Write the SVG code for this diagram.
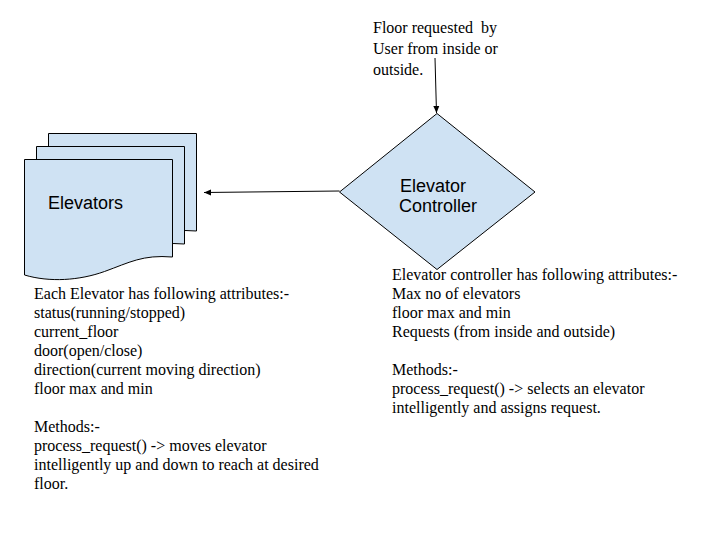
<svg xmlns="http://www.w3.org/2000/svg" width="720" height="540" viewBox="0 0 720 540">
<defs>
<style>
.shape{fill:#cfe2f3;stroke:#000;stroke-width:1}
.lbl{font-family:"Liberation Sans",Arial,sans-serif;font-size:18px;fill:#000}
.note{font-family:"Liberation Serif","Times New Roman",serif;font-size:16px;fill:#000;white-space:pre}
.conn{stroke:#000;stroke-width:1;fill:none}
</style>
<marker id="arr" markerWidth="8" markerHeight="8" refX="7" refY="4" orient="auto" markerUnits="userSpaceOnUse">
<path d="M0,1 L7,4 L0,7 Z" fill="#000"/>
</marker>
<path id="doc" d="M0,0 H148 V97.5 C118,95 105,103 80,112 C55,121 25,123 0,115.5 Z"/>
</defs>
<rect width="720" height="540" fill="#fff"/>
<g id="elevators">
<use href="#doc" class="shape" x="48.5" y="133.5"/>
<use href="#doc" class="shape" x="36.5" y="146.5"/>
<use href="#doc" class="shape" x="24.5" y="159.5"/>
<text class="lbl" x="48" y="209">Elevators</text>
</g>
<g id="controller">
<polygon class="shape" points="437,113.5 535,192 437,269.5 339.5,192"/>
<text class="lbl" x="400" y="192">Elevator</text>
<text class="lbl" x="399" y="212">Controller</text>
</g>
<g id="request-note">
<text class="note" x="373" y="33">Floor requested  by</text>
<text class="note" x="373" y="54">User from inside or</text>
<text class="note" x="373" y="75">outside.</text>
</g>
<g id="elevator-note">
<text class="note" x="34" y="299">Each Elevator has following attributes:-</text>
<text class="note" x="34" y="318">status(running/stopped)</text>
<text class="note" x="34" y="337">current_floor</text>
<text class="note" x="34" y="356">door(open/close)</text>
<text class="note" x="34" y="375">direction(current moving direction)</text>
<text class="note" x="34" y="394">floor max and min</text>
<text class="note" x="34" y="432">Methods:-</text>
<text class="note" x="34" y="451">process_request() -&gt; moves elevator</text>
<text class="note" x="34" y="470">intelligently up and down to reach at desired</text>
<text class="note" x="34" y="489">floor.</text>
</g>
<g id="controller-note">
<text class="note" x="392" y="280">Elevator controller has following attributes:-</text>
<text class="note" x="392" y="299">Max no of elevators</text>
<text class="note" x="392" y="318">floor max and min</text>
<text class="note" x="392" y="337">Requests (from inside and outside)</text>
<text class="note" x="392" y="375">Methods:-</text>
<text class="note" x="392" y="394">process_request() -&gt; selects an elevator</text>
<text class="note" x="392" y="413">intelligently and assigns request.</text>
</g>
<g id="connectors">
<line class="conn" x1="339.5" y1="191" x2="204" y2="192.5" marker-end="url(#arr)"/>
<line class="conn" x1="435" y1="58" x2="436.5" y2="113" marker-end="url(#arr)"/>
</g>
</svg>
